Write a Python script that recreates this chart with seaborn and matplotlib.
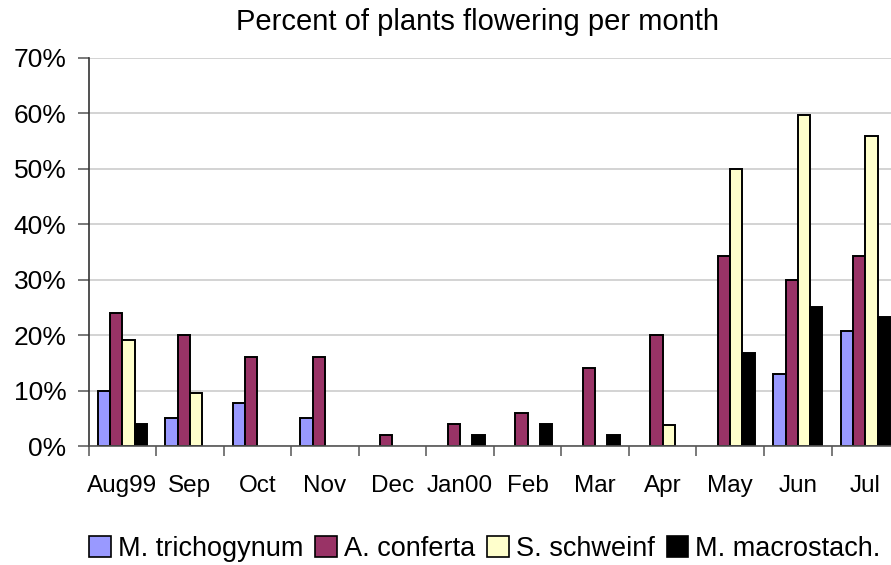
import matplotlib
matplotlib.use("Agg")
import matplotlib.pyplot as plt
from matplotlib.ticker import FixedLocator, PercentFormatter
import seaborn as sns
import pandas as pd

months = ["Aug99", "Sep", "Oct", "Nov", "Dec", "Jan00", "Feb", "Mar", "Apr", "May", "Jun", "Jul"]
species = ["M. trichogynum", "A. conferta", "S. schweinf", "M. macrostach."]

m_trichogynum = [10.0, 5.0, 7.8, 5.0, 0, 0, 0, 0, 0, 0, 12.9, 20.8]
a_conferta = [24.0, 20.0, 16.0, 16.0, 2.0, 4.0, 6.0, 14.0, 20.0, 34.3, 30.0, 34.3]
s_schweinf = [19.2, 9.5, 0, 0, 0, 0, 0, 0, 3.8, 50.0, 59.8, 56.0]
m_macrostach = [4.0, 0, 0, 0, 0, 2.0, 4.0, 2.0, 0, 16.7, 25.1, 23.2]

colors = ["#9999FF", "#993366", "#FFFFCC", "#000000"]

rows = []
for name, vals in zip(species, [m_trichogynum, a_conferta, s_schweinf, m_macrostach]):
    for mon, v in zip(months, vals):
        rows.append({"month": mon, "species": name, "pct": v})
df = pd.DataFrame(rows)

sns.set_theme(style="white")
plt.rcParams["font.family"] = ["Liberation Sans", "DejaVu Sans"]
plt.rcParams["text.color"] = "black"

fig = plt.figure(figsize=(8.91, 5.65), dpi=100)
ax = fig.add_axes([88.5 / 891, 119 / 565, 810.6 / 891, 388 / 565])

sns.barplot(data=df, x="month", y="pct", hue="species", order=months,
            hue_order=species, palette=colors, width=0.725, dodge=True,
            edgecolor="black", linewidth=1.4, ax=ax, legend=False,
            errorbar=None, saturation=1)

# months with no flowering get no bar outline at all
for patch in ax.patches:
    if patch.get_height() == 0:
        patch.set_visible(False)

ax.set_xlim(-0.5, len(months) - 0.5)
ax.set_ylim(0, 70)
ax.yaxis.set_major_locator(FixedLocator(range(0, 71, 10)))
ax.yaxis.set_major_formatter(PercentFormatter(decimals=0))
ax.yaxis.grid(True, color="#c8c8c8", linewidth=1.1)
ax.set_axisbelow(True)
ax.set_xlabel("")
ax.set_ylabel("")

# category labels at centres, tick marks on category boundaries
ax.set_xticks(range(len(months)))
ax.set_xticklabels(months)
ax.tick_params(axis="x", which="major", length=0, pad=21, labelsize=17.5, labelcolor="black")
ax.set_xticks([i - 0.5 for i in range(len(months) + 1)], minor=True)
ax.tick_params(axis="x", which="minor", length=7, width=1.1, color="#555555", direction="out", bottom=True)
ax.tick_params(axis="y", length=8, width=1.1, color="#555555", direction="out", left=True,
               labelsize=19, pad=8, labelcolor="black")

for side in ["top", "right"]:
    ax.spines[side].set_visible(False)
ax.spines["left"].set_color("#333333")
ax.spines["left"].set_linewidth(1.2)
ax.spines["bottom"].set_color("#555555")
ax.spines["bottom"].set_linewidth(1.2)

fig.text(478 / 891, 1 - 22 / 565, "Percent of plants flowering per month",
         ha="center", va="center", fontsize=21, color="black")

handles = [plt.Rectangle((0, 0), 1, 1, facecolor=c, edgecolor="black", linewidth=1.2) for c in colors]
fig.legend(handles, species, loc="center", bbox_to_anchor=(485 / 891, 1 - 549 / 565),
           ncol=4, frameon=False, fontsize=19.5, handlelength=0.8, handleheight=0.8,
           handletextpad=0.25, columnspacing=0.45, borderaxespad=0, labelcolor="black")

fig.savefig("out.png", dpi=100)
